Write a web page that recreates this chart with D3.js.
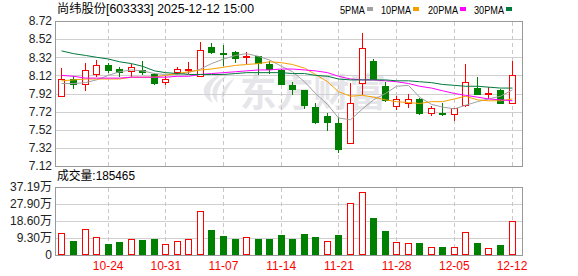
<!DOCTYPE html>
<html>
<head>
<meta charset="utf-8">
<script src="https://cdn.jsdelivr.net/npm/d3@7"></script>
<style>
    body { margin: 0; background: #fff; }
    svg { display: block; }
    text { font-family: "Liberation Sans", "Noto Sans CJK SC", sans-serif; }
</style>
</head>
<body>
<div id="chart"></div>
<script>
const dates = ["10-20", "10-21", "10-22", "10-23", "10-24", "10-27", "10-28", "10-29", "10-30", "10-31",
    "11-03", "11-04", "11-05", "11-06", "11-07", "11-10", "11-11", "11-12", "11-13", "11-14",
    "11-17", "11-18", "11-19", "11-20", "11-21", "11-24", "11-25", "11-26", "11-27", "11-28",
    "12-01", "12-02", "12-03", "12-04", "12-05", "12-08", "12-09", "12-10", "12-11", "12-12"];

const open = [7.89, 8.08, 8.03, 8.14, 8.24, 8.19, 8.17, 8.18, 8.14, 8.05,
    8.16, 8.19, 8.11, 8.43, 8.37, 8.38, 8.32, 8.33, 8.25, 8.18,
    8.01, 7.96, 7.77, 7.67, 7.59, 7.37, 8.04, 8.28, 8.00, 7.78,
    7.82, 7.86, 7.71, 7.71, 7.69, 7.79, 7.98, 7.91, 7.96, 7.82];
const high = [8.20, 8.11, 8.26, 8.29, 8.26, 8.21, 8.25, 8.28, 8.15, 8.11,
    8.21, 8.27, 8.49, 8.48, 8.46, 8.39, 8.38, 8.33, 8.28, 8.19,
    8.05, 7.96, 7.81, 7.70, 7.66, 8.04, 8.59, 8.30, 8.05, 7.89,
    7.92, 7.87, 7.78, 7.81, 7.76, 8.25, 8.10, 7.99, 7.97, 8.28];
const low = [7.89, 7.98, 7.96, 8.11, 8.16, 8.11, 8.11, 8.13, 8.03, 8.03,
    8.14, 8.15, 8.11, 8.37, 8.24, 8.27, 8.26, 8.13, 8.15, 8.02,
    7.92, 7.76, 7.60, 7.52, 7.27, 7.37, 7.92, 8.08, 7.84, 7.75,
    7.77, 7.69, 7.68, 7.68, 7.63, 7.78, 7.92, 7.87, 7.81, 7.82];
const close = [8.08, 8.03, 8.18, 8.23, 8.18, 8.16, 8.21, 8.16, 8.04, 8.08,
    8.19, 8.19, 8.40, 8.38, 8.36, 8.31, 8.33, 8.26, 8.19, 8.02,
    7.97, 7.79, 7.61, 7.61, 7.31, 7.82, 8.42, 8.08, 7.85, 7.86,
    7.86, 7.71, 7.76, 7.69, 7.76, 8.05, 7.92, 7.93, 7.82, 8.12];

// volume in 万 (10k shares)
const volume = [11.8, 7.6, 14.0, 9.6, 6.0, 7.1, 8.5, 8.2, 8.7, 5.8,
    7.4, 8.5, 23.8, 13.6, 10.3, 8.7, 9.6, 8.7, 8.7, 10.9,
    8.7, 11.4, 9.8, 7.6, 10.9, 28.3, 34.6, 20.1, 13.1, 7.1,
    6.5, 6.5, 4.2, 4.4, 4.4, 12.5, 6.5, 3.6, 5.4, 18.5465];

const ma5 = [8.03, 8.03, 8.04, 8.07, 8.12, 8.16, 8.18, 8.17, 8.14, 8.13,
    8.13, 8.15, 8.19, 8.25, 8.30, 8.34, 8.36, 8.33, 8.29, 8.22,
    8.16, 8.05, 7.92, 7.80, 7.65, 7.63, 7.75, 7.85, 7.92, 8.00,
    8.01, 7.88, 7.80, 7.77, 7.75, 7.79, 7.83, 7.86, 7.89, 7.96];
const ma10 = [8.06, 8.07, 8.08, 8.08, 8.08, 8.08, 8.10, 8.10, 8.10, 8.12,
    8.14, 8.16, 8.18, 8.19, 8.21, 8.23, 8.24, 8.25, 8.27, 8.26,
    8.24, 8.20, 8.13, 8.05, 7.94, 7.89, 7.90, 7.88, 7.85, 7.83,
    7.82, 7.81, 7.83, 7.83, 7.86, 7.89, 7.85, 7.84, 7.84, 7.86];
const ma20 = [8.12, 8.11, 8.09, 8.09, 8.09, 8.09, 8.10, 8.10, 8.10, 8.10,
    8.11, 8.11, 8.13, 8.14, 8.15, 8.16, 8.17, 8.18, 8.18, 8.19,
    8.19, 8.18, 8.17, 8.15, 8.11, 8.08, 8.07, 8.07, 8.06, 8.05,
    8.03, 8.00, 7.98, 7.95, 7.92, 7.90, 7.88, 7.86, 7.85, 7.84];
const ma30 = [8.39, 8.36, 8.34, 8.32, 8.30, 8.27, 8.25, 8.22, 8.17, 8.15,
    8.14, 8.13, 8.13, 8.13, 8.13, 8.14, 8.15, 8.15, 8.15, 8.15,
    8.14, 8.14, 8.12, 8.11, 8.08, 8.07, 8.07, 8.07, 8.07, 8.06,
    8.06, 8.05, 8.04, 8.02, 8.01, 8.00, 8.00, 7.99, 7.98, 7.98];

const labelDates = ["10-24", "10-31", "11-07", "11-14", "11-21", "11-28", "12-05", "12-12"];
const priceTicks = [7.12, 7.32, 7.52, 7.72, 7.92, 8.12, 8.32, 8.52, 8.72];
const volTicks = [0, 9.30, 18.60, 27.90, 37.19];
const volTickLabels = ["0", "9.30万", "18.60万", "27.90万", "37.19万"];

const maNames = ["5PMA", "10PMA", "20PMA", "30PMA"];
const maColors = ["#a0a0a0", "#f5a000", "#ff00ff", "#007a3d"];

const title = "尚纬股份[603333] 2025-12-12 15:00";
const volTitle = "成交量:185465";

const W = 578, H = 276;
const left = 55, right = 522;
const priceTop = 21, priceBottom = 166;
const volTop = 187, volBottom = 255;
const UP = "#ff0000", DOWN = "#008000";

const svg = d3.select("#chart").append("svg")
    .attr("width", W)
    .attr("height", H);

const x = d3.scaleBand().domain(dates).range([56.2, 517.8]).paddingInner(0.3).paddingOuter(0.15);
const yPrice = d3.scaleLinear().domain([7.12, 8.72]).range([priceBottom, priceTop]);
const yVol = d3.scaleLinear().domain([0, 37.19]).range([volBottom, volTop]);

// pixel column of each candle's center
const cx = d => Math.floor(x(d) + x.bandwidth() / 2);

const bars = dates.map((d, i) => ({
    date: d, open: open[i], high: high[i], low: low[i], close: close[i], vol: volume[i],
    up: close[i] >= open[i],
    volUp: i === 0 ? close[i] >= open[i] : close[i] >= close[i - 1]
}));

// watermark
const wm = svg.append("g").attr("fill", "#e6e6ea");
wm.append("path").attr("d", "M222,74 C203,80 197,94 213,103 C207,93 210,84 222,74 Z");
wm.append("path").attr("d", "M228,75 C212,82 208,94 218,103 C215,93 218,84 228,75 Z");
wm.append("path").attr("d", "M235,78 C222,85 219,95 223,103 C224,95 227,88 235,78 Z");
wm.append("text")
    .attr("x", 240).attr("y", 106)
    .attr("font-family", "'Noto Sans CJK SC', sans-serif")
    .attr("font-weight", 700)
    .attr("font-size", 38)
    .attr("textLength", 146)
    .attr("lengthAdjust", "spacingAndGlyphs")
    .text("东方财富");

// horizontal grid
svg.append("g")
    .attr("transform", `translate(${left},0)`)
    .call(d3.axisLeft(yPrice).tickValues(priceTicks).tickSize(-(right - left)).tickFormat(""))
    .call(g => g.select(".domain").remove())
    .call(g => g.selectAll("line").attr("stroke", "#d0d0d0").attr("shape-rendering", "crispEdges"));

svg.append("g")
    .attr("transform", `translate(${left},0)`)
    .call(d3.axisLeft(yVol).tickValues(volTicks).tickSize(-(right - left)).tickFormat(""))
    .call(g => g.select(".domain").remove())
    .call(g => g.selectAll("line").attr("stroke", "#d0d0d0").attr("shape-rendering", "crispEdges"));

// vertical dashed grid in both panels
[[priceTop, priceBottom], [volTop, volBottom]].forEach(([t, b]) => {
    svg.append("g")
        .attr("transform", `translate(0,${b})`)
        .call(d3.axisBottom(x).tickValues(labelDates).tickSize(-(b - t)).tickFormat(""))
        .call(g => g.select(".domain").remove())
        .call(g => g.selectAll("line")
            .attr("transform", d => `translate(${cx(d) + 0.5 - (x(d) + x.bandwidth() / 2)},0)`)
            .attr("stroke", "#c8c8c8")
            .attr("stroke-dasharray", "4,3")
            .attr("shape-rendering", "crispEdges"));
});

// frames
svg.append("rect")
    .attr("x", left + 0.5).attr("y", priceTop + 0.5)
    .attr("width", right - left).attr("height", priceBottom - priceTop)
    .attr("fill", "none").attr("stroke", "#999");
svg.append("rect")
    .attr("x", left + 0.5).attr("y", volTop + 0.5)
    .attr("width", right - left).attr("height", volBottom - volTop)
    .attr("fill", "none").attr("stroke", "#999");

// price axis labels
svg.append("g")
    .attr("transform", `translate(${left},0)`)
    .call(d3.axisLeft(yPrice).tickValues(priceTicks).tickSize(0).tickPadding(3).tickFormat(d3.format(".2f")))
    .call(g => g.select(".domain").remove())
    .call(g => g.selectAll("text").attr("font-size", 12).attr("fill", "#222")
        .attr("font-family", "'Liberation Sans', sans-serif"));

// volume axis labels
svg.append("g")
    .attr("transform", `translate(${left},0)`)
    .call(d3.axisLeft(yVol).tickValues(volTicks).tickSize(0).tickPadding(3).tickFormat((d, i) => volTickLabels[i]))
    .call(g => g.select(".domain").remove())
    .call(g => g.selectAll("text").attr("font-size", 12).attr("fill", "#222")
        .attr("font-family", "'Liberation Sans', 'Noto Sans CJK SC', sans-serif"));

// date labels
svg.append("g")
    .attr("transform", `translate(0,${volBottom})`)
    .call(d3.axisBottom(x).tickValues(labelDates).tickSize(0).tickPadding(6.5))
    .call(g => g.select(".domain").remove())
    .call(g => g.selectAll("text").attr("font-size", 12).attr("fill", "#ff0000")
        .attr("font-family", "'Liberation Sans', sans-serif"));

// candles
const candles = svg.append("g").attr("shape-rendering", "crispEdges");
candles.selectAll("line.wick")
    .data(bars)
    .enter().append("line")
    .attr("class", "wick")
    .attr("x1", d => cx(d.date) + 0.5)
    .attr("x2", d => cx(d.date) + 0.5)
    .attr("y1", d => Math.round(yPrice(d.high)))
    .attr("y2", d => Math.round(yPrice(d.low)) + 1)
    .attr("stroke", d => d.up ? UP : DOWN);

candles.selectAll("rect.body")
    .data(bars)
    .enter().append("rect")
    .attr("class", "body")
    .attr("x", d => d.up ? cx(d.date) - 2.5 : cx(d.date) - 3)
    .attr("width", d => d.up ? 6 : 7)
    .attr("y", d => {
        const t = Math.round(yPrice(Math.max(d.open, d.close)));
        return d.up ? t + 0.5 : t;
    })
    .attr("height", d => {
        const t = Math.round(yPrice(Math.max(d.open, d.close)));
        const b = Math.round(yPrice(Math.min(d.open, d.close)));
        return d.up ? Math.max(b - t, 1) : Math.max(b - t, 1) + 1;
    })
    .attr("fill", d => d.up ? "#fff" : DOWN)
    .attr("stroke", d => d.up ? UP : "none");

// moving averages
[ma5, ma10, ma20, ma30].forEach((series, k) => {
    const line = d3.line()
        .x((v, i) => cx(dates[i]) + 0.5)
        .y(v => yPrice(v));
    svg.append("path")
        .datum(series)
        .attr("d", line)
        .attr("fill", "none")
        .attr("stroke", maColors[k])
        .attr("stroke-width", 1);
});

// volume bars
svg.append("g").attr("shape-rendering", "crispEdges")
    .selectAll("rect")
    .data(bars)
    .enter().append("rect")
    .attr("x", d => d.volUp ? cx(d.date) - 2.5 : cx(d.date) - 3)
    .attr("width", d => d.volUp ? 6 : 7)
    .attr("y", d => d.volUp ? Math.round(yVol(d.vol)) + 0.5 : Math.round(yVol(d.vol)))
    .attr("height", d => d.volUp ? volBottom - Math.round(yVol(d.vol)) - 1 : volBottom - Math.round(yVol(d.vol)))
    .attr("fill", d => d.volUp ? "#fff" : DOWN)
    .attr("stroke", d => d.volUp ? UP : "none");

// titles
svg.append("text")
    .attr("x", 57).attr("y", 13)
    .attr("font-size", 12)
    .attr("fill", "#000")
    .attr("font-family", "'Noto Sans CJK SC', sans-serif")
    .attr("textLength", 197)
    .attr("lengthAdjust", "spacingAndGlyphs")
    .text(title);

svg.append("text")
    .attr("x", 57).attr("y", 180)
    .attr("font-size", 12)
    .attr("fill", "#000")
    .attr("font-family", "'Noto Sans CJK SC', sans-serif")
    .attr("textLength", 78)
    .attr("lengthAdjust", "spacingAndGlyphs")
    .text(volTitle);

// legend
const legendX = [340, 381, 428, 474];
const legendW = [25, 30, 30, 30];
maNames.forEach((name, k) => {
    const g = svg.append("g");
    g.append("text")
        .attr("x", legendX[k]).attr("y", 14)
        .attr("font-size", 11)
        .attr("fill", "#000")
        .attr("font-family", "'Liberation Serif', serif")
        .attr("textLength", legendW[k])
        .attr("lengthAdjust", "spacingAndGlyphs")
        .text(name);
    g.append("rect")
        .attr("x", legendX[k] + legendW[k] + 2).attr("y", 7)
        .attr("width", 6).attr("height", 4)
        .attr("fill", maColors[k]);
});
</script>
</body>
</html>
